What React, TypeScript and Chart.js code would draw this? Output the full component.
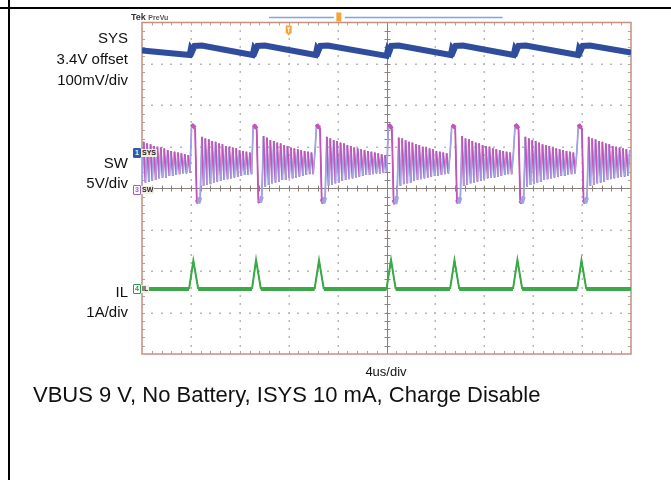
import React, { useEffect, useRef } from "react";
import { Chart, registerables } from "chart.js";

Chart.register(...registerables);

// ---------- time base ----------
const SAMPLE_US = 0.14; // scope sample interval for the SW record
const TIME_MIN_US = 0;
const TIME_MAX_US = 40; // 10 div x 4 us/div

// ---------- SW node voltage (V), one sample every SAMPLE_US ----------
const swVolts = [
  // tail of ringing before 1st pulse
  0.5, 5.6, 0.7, 5.4, 0.8, 5.3, 0.9, 5.1, 1.0, 5.0, 1.2, 4.9, 1.3, 4.8, 1.3, 4.6, 1.5, 4.5, 1.5, 4.4, 1.6, 4.3, 1.7, 4.2, 1.8, 4.1, 1.8, 4.0, 1.9,
  // pulse 1
  7.7, 7.5, 7.3, -1.4, -1.8, -1.1,
  6.2, 0.3, 6.0, 0.4, 5.9, 0.5, 5.7, 0.7, 5.6, 0.8, 5.4, 0.9, 5.3, 1.0, 5.1, 1.1, 5.0, 1.2, 4.9, 1.3, 4.8, 1.4, 4.6, 1.5, 4.5, 1.6, 4.4, 1.6, 4.3, 1.7,
  // pulse 2
  7.6, 7.5, 7.2, -1.5, -1.7, -1.0,
  6.3, 0.2, 6.1, 0.4, 5.8, 0.6, 5.7, 0.7, 5.5, 0.8, 5.4, 1.0, 5.2, 1.0, 5.1, 1.2, 4.9, 1.2, 4.8, 1.3, 4.7, 1.4, 4.6, 1.5, 4.5, 1.6, 4.4, 1.7, 4.3, 1.7, 4.2,
  // pulse 3
  7.7, 7.4, 7.3, -1.3, -1.8, -1.1,
  6.2, 0.3, 6.0, 0.4, 5.8, 0.6, 5.7, 0.7, 5.5, 0.9, 5.4, 1.0, 5.2, 1.1, 5.1, 1.2, 4.9, 1.3, 4.8, 1.4, 4.7, 1.5, 4.6, 1.6, 4.5, 1.6, 4.4, 1.7, 4.3, 1.8, 4.2, 1.8, 4.1, 1.9, 4.0, 1.9,
  // pulse 4
  7.7, 7.5, 7.2, -1.4, -1.9, -1.0,
  6.1, 0.3, 6.0, 0.5, 5.8, 0.6, 5.6, 0.7, 5.5, 0.9, 5.3, 1.0, 5.2, 1.1, 5.0, 1.2, 4.9, 1.3, 4.8, 1.4, 4.7, 1.5, 4.5, 1.5, 4.4, 1.6, 4.3, 1.7, 4.2, 1.8, 4.2,
  // pulse 5
  7.6, 7.5, 7.3, -1.4, -1.8, -1.1,
  6.3, 0.3, 6.0, 0.4, 5.9, 0.6, 5.7, 0.7, 5.5, 0.8, 5.4, 0.9, 5.2, 1.1, 5.1, 1.2, 5.0, 1.3, 4.8, 1.3, 4.7, 1.4, 4.6, 1.5, 4.5, 1.6, 4.4, 1.7, 4.3, 1.7, 4.2,
  // pulse 6
  7.7, 7.5, 7.2, -1.5, -1.8, -1.0,
  6.2, 0.2, 6.0, 0.4, 5.8, 0.5, 5.7, 0.7, 5.5, 0.8, 5.3, 1.0, 5.2, 1.1, 5.1, 1.2, 4.9, 1.3, 4.8, 1.4, 4.7, 1.5, 4.6, 1.5, 4.5, 1.6, 4.4, 1.7, 4.3, 1.8, 4.2,
  // pulse 7
  7.7, 7.4, 7.3, -1.4, -1.8, -1.1,
  6.2, 0.3, 6.0, 0.4, 5.9, 0.6, 5.7, 0.7, 5.6, 0.8, 5.4, 1.0, 5.3, 1.1, 5.1, 1.2, 5.0, 1.3, 4.9, 1.4, 4.8, 1.4, 4.7, 1.5, 4.6,
];

// ---------- SYS voltage (mV) ----------
const sysT = [
  0, 3.9, 4.0, 4.12, 4.3, 4.9,
  9.05, 9.16, 9.28, 9.45, 10.05,
  14.2, 14.31, 14.43, 14.6, 15.2,
  20.0, 20.12, 20.24, 20.4, 21.0,
  25.25, 25.36, 25.48, 25.65, 26.25,
  30.4, 30.51, 30.63, 30.8, 31.4,
  35.65, 35.75, 35.87, 36.05, 36.65,
  40,
];
const sysMv = [
  3648, 3637, 3652, 3647, 3659, 3660,
  3637, 3652, 3647, 3659, 3660,
  3637, 3652, 3647, 3659, 3660,
  3635, 3651, 3646, 3659, 3660,
  3637, 3652, 3647, 3659, 3660,
  3637, 3652, 3647, 3659, 3660,
  3637, 3652, 3647, 3659, 3660,
  3643,
];

// ---------- inductor current (A) ----------
const ilT = [
  0, 3.85, 4.2, 4.6,
  9.0, 9.33, 9.72,
  14.12, 14.48, 14.87,
  20.0, 20.37, 20.75,
  25.2, 25.56, 25.95,
  30.35, 30.71, 31.1,
  35.6, 35.95, 36.34,
  40,
];
const ilAmps = [
  0, 0, 0.68, 0,
  0, 0.7, 0,
  0, 0.69, 0,
  0, 0.7, 0,
  0, 0.69, 0,
  0, 0.7, 0,
  0, 0.69, 0,
  0,
];

// ---------- channel settings ----------
const SYS_OFFSET_MV = 3400;
const SYS_MV_PER_DIV = 100;
const SYS_POS_DIV = 0.845;
const SW_V_PER_DIV = 5;
const SW_POS_DIV = 0;
const IL_A_PER_DIV = 1;
const IL_POS_DIV = -2.43;

const X_DIVS = 10;
const Y_DIVS = 8;

const graticule = {
  id: "graticule",
  beforeDatasetsDraw(chart: any) {
    const { ctx, chartArea: a, scales } = chart;
    const x = scales.x;
    const y = scales.y;
    const usPerDiv = (TIME_MAX_US - TIME_MIN_US) / X_DIVS;
    ctx.save();
    // dotted grid
    ctx.fillStyle = "#b8b8b8";
    for (let i = 1; i < X_DIVS; i++) {
      if (i === X_DIVS / 2) continue;
      const gx = Math.round(x.getPixelForValue(TIME_MIN_US + i * usPerDiv));
      for (let j = 1; j < Y_DIVS * 5; j++) {
        const gy = Math.round(y.getPixelForValue(-Y_DIVS / 2 + j * 0.2));
        ctx.fillRect(gx - 0.5, gy - 1, 1.5, 2);
      }
    }
    for (let j = 1; j < Y_DIVS; j++) {
      if (j === Y_DIVS / 2) continue;
      const gy = Math.round(y.getPixelForValue(-Y_DIVS / 2 + j));
      for (let i = 1; i < X_DIVS * 5; i++) {
        const gx = Math.round(x.getPixelForValue(TIME_MIN_US + (i * usPerDiv) / 5));
        ctx.fillRect(gx - 1, gy - 0.5, 2, 1.5);
      }
    }
    // frame ticks
    ctx.strokeStyle = "#a8a8a8";
    ctx.lineWidth = 1;
    ctx.beginPath();
    for (let i = 1; i < X_DIVS * 5; i++) {
      const gx = Math.round(x.getPixelForValue(TIME_MIN_US + (i * usPerDiv) / 5)) + 0.5;
      ctx.moveTo(gx, a.top);
      ctx.lineTo(gx, a.top + 3);
      ctx.moveTo(gx, a.bottom);
      ctx.lineTo(gx, a.bottom - 3);
    }
    for (let j = 1; j < Y_DIVS * 5; j++) {
      const gy = Math.round(y.getPixelForValue(-Y_DIVS / 2 + j * 0.2)) + 0.5;
      ctx.moveTo(a.left, gy);
      ctx.lineTo(a.left + 3, gy);
      ctx.moveTo(a.right, gy);
      ctx.lineTo(a.right - 3, gy);
    }
    ctx.stroke();
    // center cross
    const cx = Math.round(x.getPixelForValue((TIME_MIN_US + TIME_MAX_US) / 2)) + 0.5;
    const cy = Math.round(y.getPixelForValue(0)) + 0.5;
    ctx.strokeStyle = "#8c827c";
    ctx.beginPath();
    ctx.moveTo(cx, a.top);
    ctx.lineTo(cx, a.bottom);
    ctx.moveTo(a.left, cy);
    ctx.lineTo(a.right, cy);
    for (let i = 1; i < X_DIVS * 5; i++) {
      const gx = Math.round(x.getPixelForValue(TIME_MIN_US + (i * usPerDiv) / 5)) + 0.5;
      ctx.moveTo(gx, cy - 3);
      ctx.lineTo(gx, cy + 3);
    }
    for (let j = 1; j < Y_DIVS * 5; j++) {
      const gy = Math.round(y.getPixelForValue(-Y_DIVS / 2 + j * 0.2)) + 0.5;
      ctx.moveTo(cx - 3, gy);
      ctx.lineTo(cx + 3, gy);
    }
    ctx.stroke();
    // frame
    ctx.strokeStyle = "#c4907f";
    ctx.lineWidth = 1.5;
    ctx.strokeRect(a.left, a.top, a.right - a.left, a.bottom - a.top);
    ctx.restore();
  },
  afterDraw(chart: any) {
    const { ctx, chartArea: a, scales } = chart;
    const x = scales.x;
    ctx.save();
    // record view bar
    const x0 = x.getPixelForValue(10.4);
    const x1 = x.getPixelForValue(29.5);
    const xt = x.getPixelForValue(16.1);
    const yb = a.top - 5;
    ctx.strokeStyle = "#7aa8e2";
    ctx.lineWidth = 1.5;
    ctx.beginPath();
    ctx.moveTo(x0, yb);
    ctx.lineTo(xt - 5, yb);
    ctx.moveTo(xt + 6, yb);
    ctx.lineTo(x1, yb);
    ctx.stroke();
    // trigger position marker
    ctx.fillStyle = "#f2a43a";
    ctx.fillRect(xt - 2.5, a.top - 10, 5, 9);
    // trigger marker inside the graticule
    const xm = x.getPixelForValue(12.0);
    ctx.beginPath();
    ctx.moveTo(xm - 3, a.top + 3);
    ctx.lineTo(xm + 3, a.top + 3);
    ctx.lineTo(xm + 3, a.top + 10);
    ctx.lineTo(xm, a.top + 13);
    ctx.lineTo(xm - 3, a.top + 10);
    ctx.closePath();
    ctx.fill();
    ctx.fillStyle = "#ffffff";
    ctx.fillRect(xm - 1.5, a.top + 5, 3, 1);
    ctx.fillRect(xm - 0.5, a.top + 5, 1, 5);
    ctx.restore();
  },
};

const FONT = "'Liberation Sans', Arial, sans-serif";

function Label(props: { text: string; cy: number; size: number; left?: number; width?: number; align?: "left" | "right" | "center" }) {
  const { text, cy, size, left = 0, width = 128, align = "right" } = props;
  return (
    <div
      style={{
        position: "absolute",
        left,
        width,
        top: cy - size * 0.49,
        fontFamily: FONT,
        fontSize: size,
        lineHeight: `${size}px`,
        textAlign: align,
        color: "#111",
        whiteSpace: "nowrap",
      }}
    >
      {text}
    </div>
  );
}

function ChanTag(props: { num: string; name: string; cy: number; color: string; filled: boolean }) {
  const { num, name, cy, color, filled } = props;
  return (
    <div style={{ position: "absolute", left: 133, top: cy - 5, height: 10, display: "flex", alignItems: "center", fontFamily: FONT, fontSize: 7, fontWeight: "bold", lineHeight: "8px" }}>
      <span
        style={{
          display: "inline-block",
          width: 6,
          height: 8,
          textAlign: "center",
          background: filled ? color : "#fff",
          color: filled ? "#fff" : color,
          border: `1px solid ${color}`,
          borderRadius: 1,
        }}
      >
        {num}
      </span>
      <span style={{ background: "#f3eee2", color: "#222", padding: "0 1px" }}>{name}</span>
    </div>
  );
}

const flatSeg = (c: any) => Math.abs(c.p1.parsed.y - c.p0.parsed.y) < 0.12;
const swPlateau = (c: any) =>
  (c.p0.parsed.y > 1.35 && c.p1.parsed.y > 1.35) || (c.p0.parsed.y < -0.15 && c.p1.parsed.y < -0.15);

export default function App() {
  const ref = useRef<HTMLCanvasElement | null>(null);

  useEffect(() => {
    if (!ref.current) return;
    const swData = swVolts.map((v, i) => ({ x: TIME_MIN_US + i * SAMPLE_US, y: v / SW_V_PER_DIV + SW_POS_DIV }));
    const sysData = sysT.map((t, i) => ({ x: t, y: (sysMv[i] - SYS_OFFSET_MV) / SYS_MV_PER_DIV + SYS_POS_DIV }));
    const ilData = ilT.map((t, i) => ({ x: t, y: ilAmps[i] / IL_A_PER_DIV + IL_POS_DIV }));

    const chart = new Chart(ref.current, {
      type: "line",
      data: {
        datasets: [
          {
            label: "SW persistence",
            data: swData,
            borderColor: "#c454b8",
            borderWidth: 1.8,
            pointRadius: 0,
            tension: 0,
            segment: {
              borderColor: (c: any) => (c.p1.parsed.y > c.p0.parsed.y ? "#9ea4e6" : "#c454b8"),
              borderWidth: (c: any) => (swPlateau(c) ? 4 : 1.8),
            },
          } as any,
          {
            label: "SW",
            data: swData,
            borderColor: "#86207f",
            borderWidth: 1,
            pointRadius: 0,
            tension: 0,
            segment: {
              borderColor: (c: any) => (c.p1.parsed.y > c.p0.parsed.y ? "#a844a0" : "#86207f"),
              borderWidth: (c: any) => (swPlateau(c) ? 2.5 : 1),
            },
          } as any,
          { label: "SYS halo", data: sysData, borderColor: "#2f4d9c", borderWidth: 6, pointRadius: 0, tension: 0 },
          { label: "SYS", data: sysData, borderColor: "#14235e", borderWidth: 2.5, pointRadius: 0, tension: 0 },
          {
            label: "IL halo",
            data: ilData,
            borderColor: "#3aa946",
            borderWidth: 4,
            pointRadius: 0,
            tension: 0,
            segment: { borderWidth: (c: any) => (flatSeg(c) ? 4 : 2) },
          } as any,
          {
            label: "IL",
            data: ilData,
            borderColor: "#0f6c24",
            borderWidth: 1.5,
            pointRadius: 0,
            tension: 0,
            segment: { borderWidth: (c: any) => (flatSeg(c) ? 1.5 : 1) },
          } as any,
        ],
      },
      options: {
        animation: false,
        responsive: false,
        devicePixelRatio: 1,
        layout: { padding: { left: 142, top: 22.5, right: 40, bottom: 126 } },
        plugins: { legend: { display: false }, tooltip: { enabled: false } },
        scales: {
          x: { type: "linear", min: TIME_MIN_US, max: TIME_MAX_US, display: false },
          y: { type: "linear", min: -Y_DIVS / 2, max: Y_DIVS / 2, display: false },
        },
      },
      plugins: [graticule],
    });
    return () => chart.destroy();
  }, []);

  return (
    <div style={{ position: "absolute", left: 0, top: 0, width: 671, height: 480, background: "#fff", overflow: "hidden" }}>
      <canvas ref={ref} width={671} height={480} style={{ position: "absolute", left: 0, top: 0, width: 671, height: 480 }} />
      <div style={{ position: "absolute", left: 8, top: 0, width: 2, height: 480, background: "#000" }} />
      <div style={{ position: "absolute", left: 0, top: 7, width: 671, height: 2, background: "#000" }} />
      <div style={{ position: "absolute", left: 131, top: 13, fontFamily: FONT, fontSize: 9, fontWeight: "bold", color: "#333", lineHeight: "9px", whiteSpace: "nowrap" }}>
        Tek <span style={{ fontSize: 7, color: "#555" }}>PreVu</span>
      </div>
      <Label text="SYS" cy={37} size={15} />
      <Label text="3.4V offset" cy={58} size={15} />
      <Label text="100mV/div" cy={79} size={15} />
      <Label text="SW" cy={162} size={15} />
      <Label text="5V/div" cy={182} size={15} />
      <Label text="IL" cy={291} size={15} />
      <Label text="1A/div" cy={311} size={15} />
      <Label text="4us/div" cy={371} size={13} left={336} width={100} align="center" />
      <Label text="VBUS 9 V, No Battery, ISYS 10 mA, Charge Disable" cy={395} size={22} left={33} width={620} align="left" />
      <ChanTag num="1" name="SYS" cy={153} color="#2a5cb0" filled={true} />
      <ChanTag num="3" name="SW" cy={190} color="#9a62c8" filled={false} />
      <ChanTag num="4" name="IL" cy={289} color="#2f9a45" filled={false} />
    </div>
  );
}
